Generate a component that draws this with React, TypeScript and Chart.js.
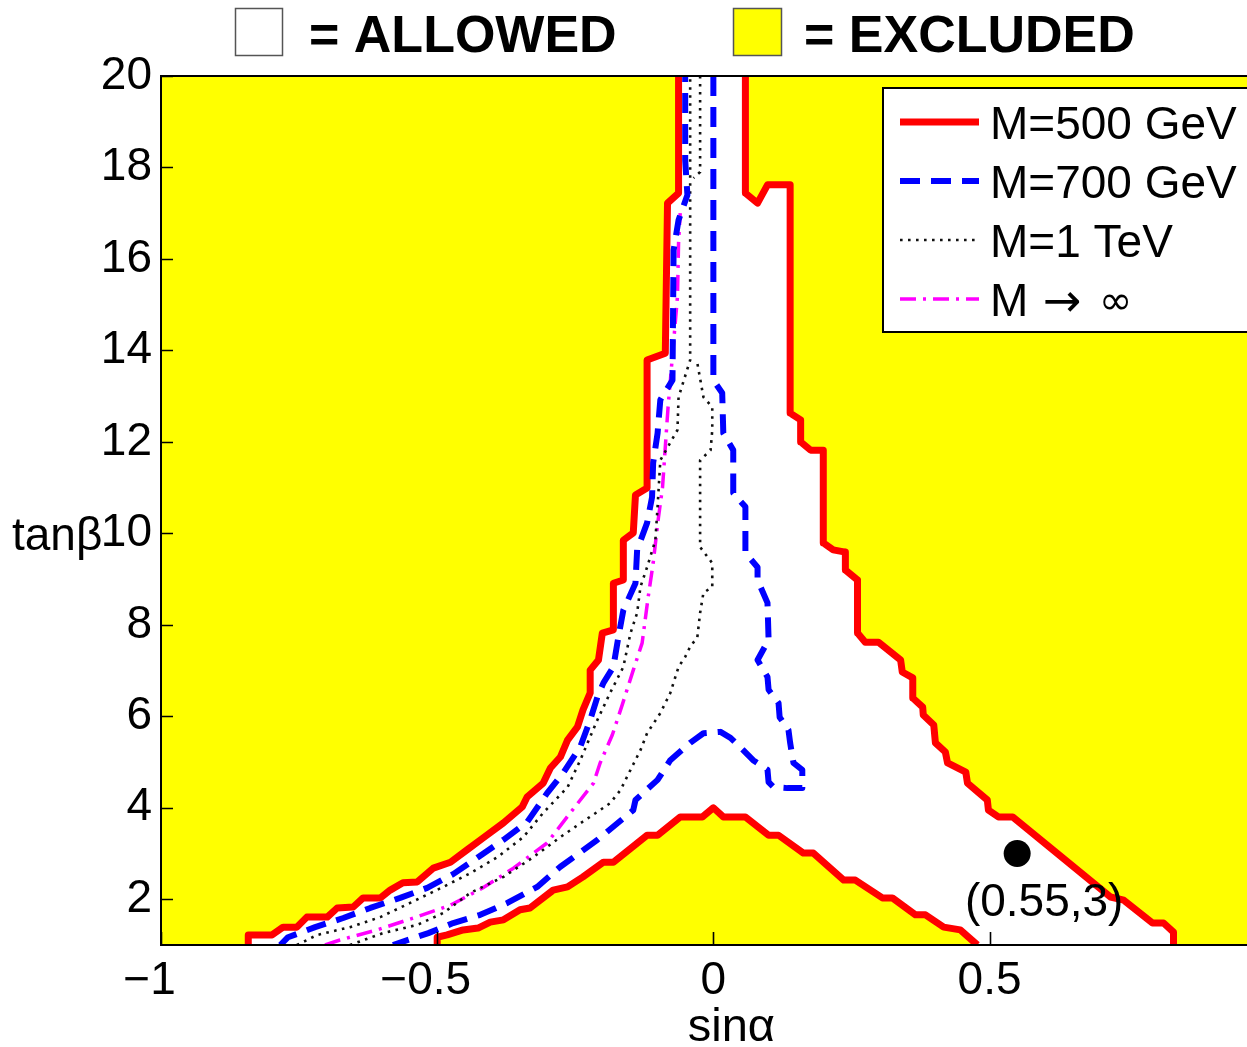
import { useEffect, useRef } from "react";
import { Chart, registerables } from "chart.js";

Chart.register(...registerables);

type Pt = [number, number];

// ---------- data ----------
const xTicks = [-1, -0.5, 0, 0.5];
const yTicks = [2, 4, 6, 8, 10, 12, 14, 16, 18, 20];
const xMin = -1;
const xMax = 0.967;
const yMin = 1;
const yMax = 20;

const seriesLabels = ["M=500 GeV", "M=700 GeV", "M=1 TeV", "M \u2192 \u221E"];
const regionLabels = ["= ALLOWED", "= EXCLUDED"];
const xTitle = "sin\u03B1";
const yTitle = "tan\u03B2";
const benchmarkLabel = "(0.55,3)";
const benchmark: Pt[] = [[0.55, 3]];

// M=500 GeV, outer boundary, left branch (bottom -> top)
const m500Left: Pt[] = [
  [-0.842, 1.0], [-0.842, 1.22], [-0.799, 1.22], [-0.779, 1.39], [-0.754, 1.39], [-0.736, 1.61],
  [-0.699, 1.61], [-0.681, 1.81], [-0.652, 1.83], [-0.634, 2.03], [-0.603, 2.03], [-0.585, 2.2],
  [-0.562, 2.36], [-0.536, 2.38], [-0.507, 2.68], [-0.476, 2.81], [-0.446, 3.08], [-0.417, 3.34],
  [-0.38, 3.67], [-0.346, 4.02], [-0.337, 4.24], [-0.308, 4.54], [-0.295, 4.87], [-0.277, 5.11],
  [-0.264, 5.48], [-0.246, 5.77], [-0.236, 6.14], [-0.223, 6.51], [-0.223, 7.01], [-0.208, 7.23],
  [-0.201, 7.82], [-0.181, 7.89], [-0.181, 8.91], [-0.163, 8.98], [-0.163, 9.85], [-0.145, 10.01],
  [-0.141, 10.84], [-0.12, 10.99], [-0.12, 13.79], [-0.087, 13.94], [-0.083, 17.22], [-0.063, 17.44],
  [-0.063, 20],
];
// M=500 GeV, outer boundary, right branch (top -> bottom)
const m500Right: Pt[] = [
  [0.058, 20], [0.058, 17.44], [0.08, 17.22], [0.098, 17.62], [0.139, 17.62], [0.139, 12.63],
  [0.158, 12.48], [0.158, 12.0], [0.176, 11.82], [0.199, 11.82], [0.199, 9.79], [0.217, 9.64],
  [0.239, 9.59], [0.239, 9.2], [0.261, 8.98], [0.261, 7.82], [0.275, 7.62], [0.299, 7.62],
  [0.339, 7.23], [0.342, 6.97], [0.361, 6.84], [0.361, 6.4], [0.379, 6.2], [0.38, 6.03],
  [0.399, 5.81], [0.402, 5.42], [0.42, 5.22], [0.424, 4.98], [0.457, 4.78], [0.46, 4.54],
  [0.496, 4.17], [0.498, 3.95], [0.516, 3.8], [0.542, 3.8], [0.719, 2.05], [0.743, 1.98],
  [0.795, 1.48], [0.815, 1.48], [0.833, 1.28], [0.833, 1.0],
];
// M=500 GeV, inner (lower) boundary (right -> left)
const m500Inner: Pt[] = [
  [0.478, 1.0], [0.447, 1.33], [0.417, 1.39], [0.384, 1.66], [0.366, 1.66], [0.324, 2.03],
  [0.306, 2.03], [0.257, 2.42], [0.236, 2.42], [0.181, 3.01], [0.163, 3.01], [0.118, 3.4],
  [0.1, 3.4], [0.058, 3.8], [0.018, 3.8], [0.0, 4.0], [-0.02, 3.8], [-0.06, 3.8], [-0.101, 3.4],
  [-0.12, 3.4], [-0.181, 2.81], [-0.199, 2.81], [-0.236, 2.49], [-0.264, 2.27], [-0.29, 2.2],
  [-0.332, 1.81], [-0.35, 1.77], [-0.38, 1.55], [-0.404, 1.5], [-0.426, 1.37], [-0.453, 1.33],
  [-0.482, 1.22], [-0.5, 1.17], [-0.5, 1.0],
];

// M=700 GeV
const m700Left: Pt[] = [
  [-0.784, 1.0], [-0.77, 1.17], [-0.721, 1.39], [-0.67, 1.59], [-0.621, 1.81], [-0.567, 2.03],
  [-0.518, 2.25], [-0.471, 2.55], [-0.426, 2.92], [-0.38, 3.3], [-0.337, 3.69], [-0.301, 4.32],
  [-0.272, 4.76], [-0.241, 5.33], [-0.223, 5.92], [-0.21, 6.42], [-0.199, 6.73], [-0.181, 7.08],
  [-0.172, 7.73], [-0.163, 8.32], [-0.141, 8.91], [-0.138, 9.64], [-0.12, 10.23], [-0.111, 10.79],
  [-0.109, 11.54], [-0.101, 12.19], [-0.096, 12.92], [-0.074, 13.35], [-0.072, 16.19],
  [-0.063, 16.85], [-0.047, 17.4], [-0.051, 18.16], [-0.051, 20],
];
const m700Right: Pt[] = [
  [0.0, 20], [0.0, 13.35], [0.016, 13.07], [0.018, 12.19], [0.036, 11.82], [0.036, 10.88],
  [0.058, 10.58], [0.058, 9.57], [0.08, 9.26], [0.08, 8.98], [0.098, 8.48], [0.1, 7.67],
  [0.08, 7.23], [0.098, 6.86], [0.1, 6.58], [0.118, 6.29], [0.12, 5.98], [0.136, 5.7],
  [0.139, 5.42], [0.145, 4.98], [0.161, 4.83], [0.161, 4.43], [0.134, 4.43], [0.109, 4.45],
  [0.1, 4.56], [0.098, 4.83], [0.072, 5.04], [0.054, 5.26], [0.031, 5.53], [0.013, 5.66],
  [-0.018, 5.63], [-0.042, 5.42], [-0.078, 5.04], [-0.101, 4.61], [-0.141, 4.17], [-0.145, 3.95],
  [-0.21, 3.3], [-0.228, 3.14], [-0.277, 2.71], [-0.319, 2.27], [-0.373, 1.92], [-0.422, 1.66],
  [-0.471, 1.48], [-0.516, 1.26], [-0.58, 1.0],
];

// M=1 TeV
const m1000Left: Pt[] = [
  [-0.754, 1.0], [-0.717, 1.22], [-0.658, 1.39], [-0.603, 1.61], [-0.549, 1.92], [-0.489, 2.27],
  [-0.44, 2.57], [-0.391, 2.92], [-0.344, 3.36], [-0.308, 3.89], [-0.264, 4.45], [-0.241, 5.04],
  [-0.21, 5.92], [-0.187, 6.51], [-0.163, 7.08], [-0.15, 7.82], [-0.138, 8.26], [-0.132, 8.83],
  [-0.12, 9.26], [-0.105, 9.85], [-0.101, 10.58], [-0.096, 11.6], [-0.065, 12.26], [-0.063, 12.98],
  [-0.042, 13.79], [-0.042, 20],
];
const m1000Right: Pt[] = [
  [-0.658, 1.0], [-0.598, 1.26], [-0.536, 1.44], [-0.489, 1.7], [-0.44, 2.14], [-0.38, 2.49],
  [-0.326, 2.92], [-0.277, 3.36], [-0.236, 3.7], [-0.205, 3.95], [-0.187, 4.1], [-0.168, 4.39],
  [-0.15, 4.83], [-0.132, 5.26], [-0.12, 5.63], [-0.096, 6.07], [-0.078, 6.51], [-0.063, 7.08],
  [-0.051, 7.3], [-0.042, 7.52], [-0.029, 7.73], [-0.024, 8.26], [-0.018, 8.7], [-0.002, 8.83],
  [-0.002, 9.35], [-0.024, 9.7], [-0.024, 11.6], [-0.005, 11.82], [-0.002, 12.26], [-0.002, 12.76],
  [-0.018, 12.98], [-0.029, 13.72],
];
const m1000Top: Pt[] = [[-0.024, 20], [-0.024, 17.9], [-0.036, 17.77]];

// M -> infinity
const mInf: Pt[] = [
  [-0.703, 1.0], [-0.676, 1.11], [-0.609, 1.33], [-0.543, 1.59], [-0.476, 1.87], [-0.417, 2.25],
  [-0.362, 2.68], [-0.301, 3.23], [-0.259, 3.89], [-0.217, 4.54], [-0.205, 4.98], [-0.183, 5.59],
  [-0.165, 6.25], [-0.145, 7.01], [-0.129, 7.6], [-0.118, 8.61], [-0.109, 9.35], [-0.1, 10.29],
  [-0.092, 11.01], [-0.087, 11.89], [-0.082, 12.76], [-0.065, 15.17], [-0.063, 16.35], [-0.06, 17.0],
];

// ---------- styles ----------
const W = 1247;
const H = 1047;
const FONT = "'Liberation Sans', Arial, Helvetica, sans-serif";
const SYMFONT = "'DejaVu Sans', 'Liberation Sans', sans-serif";
const YELLOW = "#ffff00";
const seriesStyles = [
  { color: "#ff0000", width: 7, dash: [] as number[] },
  { color: "#0000ff", width: 6, dash: [20, 11] },
  { color: "#111111", width: 2.6, dash: [2.6, 5.4] },
  { color: "#ff00ff", width: 3.5, dash: [16, 7, 3, 7] },
];

const toPts = (a: Pt[]) => a.map(([x, y]) => ({ x, y }));

function lineDs(data: Pt[], s: number, order: number) {
  const st = seriesStyles[s];
  return {
    data: toPts(data),
    showLine: true,
    fill: false,
    borderColor: st.color,
    borderWidth: st.width,
    borderDash: st.dash,
    borderJoinStyle: "round" as const,
    borderCapStyle: "butt" as const,
    pointRadius: 0,
    pointHoverRadius: 0,
    tension: 0,
    clip: 0,
    order,
  };
}

const decorPlugin = {
  id: "decor",
  beforeDraw(chart: any) {
    const { ctx, chartArea: a, width, height } = chart;
    ctx.save();
    ctx.fillStyle = "#ffffff";
    ctx.fillRect(0, 0, width, height);
    ctx.fillStyle = YELLOW;
    ctx.fillRect(a.left, a.top, a.right - a.left, a.bottom - a.top);
    ctx.restore();
  },
  afterDatasetsDraw(chart: any) {
    const { ctx, chartArea: a } = chart;
    const xs = chart.scales.x;
    const ys = chart.scales.y;
    ctx.save();
    ctx.strokeStyle = "#000";
    ctx.lineWidth = 2;
    ctx.setLineDash([]);
    ctx.beginPath();
    ctx.moveTo(a.right + 5, a.top);
    ctx.lineTo(a.left, a.top);
    ctx.lineTo(a.left, a.bottom);
    ctx.lineTo(a.right + 5, a.bottom);
    ctx.stroke();
    ctx.lineWidth = 1.6;
    ctx.beginPath();
    for (const v of yTicks) {
      const py = Math.round(ys.getPixelForValue(v)) + 0.5;
      ctx.moveTo(a.left, py);
      ctx.lineTo(a.left + 12, py);
    }
    for (const v of xTicks) {
      const px = Math.round(xs.getPixelForValue(v)) + 0.5;
      ctx.moveTo(px, a.bottom);
      ctx.lineTo(px, a.bottom - 13);
    }
    ctx.stroke();
    ctx.restore();
  },
  afterDraw(chart: any) {
    const { ctx } = chart;
    const xs = chart.scales.x;
    const ys = chart.scales.y;
    ctx.save();
    ctx.fillStyle = "#000";
    ctx.textBaseline = "alphabetic";

    // y title (horizontal, left of the "10" tick)
    ctx.font = `46px ${FONT}`;
    ctx.textAlign = "left";
    ctx.fillText(yTitle, 12, ys.getPixelForValue(10) + 17);

    // x title
    ctx.textAlign = "center";
    ctx.font = `47px ${FONT}`;
    ctx.fillText(xTitle, xs.getPixelForValue(0) + 18, 1041);

    // benchmark label
    ctx.font = `46px ${FONT}`;
    const bx = xs.getPixelForValue(benchmark[0][0]);
    const by = ys.getPixelForValue(benchmark[0][1]);
    ctx.textAlign = "center";
    ctx.fillText(benchmarkLabel, bx + 27, by + 62);

    // top legend (allowed / excluded)
    ctx.lineWidth = 1.5;
    ctx.strokeStyle = "#555";
    ctx.fillStyle = "#ffffff";
    ctx.fillRect(235, 8, 47, 47);
    ctx.strokeRect(235.5, 8.5, 47, 47);
    ctx.fillStyle = YELLOW;
    ctx.fillRect(733, 8, 48, 47);
    ctx.strokeRect(733.5, 8.5, 48, 47);
    ctx.fillStyle = "#000";
    ctx.font = `bold 52px ${FONT}`;
    ctx.textAlign = "left";
    ctx.fillText(regionLabels[0], 309, 52);
    ctx.fillText(regionLabels[1], 804, 52);

    // line legend box
    ctx.fillStyle = "#ffffff";
    ctx.fillRect(883, 88, 420, 244);
    ctx.strokeStyle = "#000";
    ctx.lineWidth = 2;
    ctx.strokeRect(883, 88, 420, 244);
    ctx.textAlign = "left";
    seriesLabels.forEach((lab, i) => {
      const yc = 122 + i * 59;
      const st = seriesStyles[i];
      ctx.strokeStyle = st.color;
      ctx.lineWidth = st.width;
      ctx.setLineDash(st.dash);
      ctx.lineCap = "butt";
      ctx.beginPath();
      ctx.moveTo(900, yc);
      ctx.lineTo(979, yc);
      ctx.stroke();
      ctx.setLineDash([]);
      ctx.fillStyle = "#000";
      if (i === 3) {
        const parts = lab.split(" ");
        ctx.font = `46px ${FONT}`;
        ctx.fillText(parts[0], 990, yc + 17);
        ctx.font = `46px ${SYMFONT}`;
        ctx.fillText(parts[1], 1043, yc + 17);
        ctx.font = `40px ${SYMFONT}`;
        ctx.fillText(parts[2], 1099, yc + 15);
      } else {
        ctx.font = `46px ${FONT}`;
        ctx.fillText(lab, 990, yc + 17);
      }
    });
    ctx.restore();
  },
};

export default function App() {
  const ref = useRef<HTMLCanvasElement>(null);
  useEffect(() => {
    const canvas = ref.current;
    if (!canvas) return;
    const allowedRegion = [...m500Left, ...m500Right, ...m500Inner];
    const chart = new Chart(canvas, {
      type: "scatter",
      data: {
        datasets: [
          {
            data: toPts(allowedRegion),
            showLine: true,
            fill: "shape",
            backgroundColor: "#ffffff",
            borderWidth: 0,
            borderColor: "rgba(0,0,0,0)",
            pointRadius: 0,
            clip: 0,
            order: 10,
          } as any,
          lineDs(m500Left, 0, 6),
          lineDs(m500Right, 0, 6),
          lineDs(m500Inner, 0, 6),
          lineDs(mInf, 3, 5),
          lineDs(m1000Left, 2, 4),
          lineDs(m1000Right, 2, 4),
          lineDs(m1000Top, 2, 4),
          lineDs(m700Left, 1, 3),
          lineDs(m700Right, 1, 3),
          {
            data: toPts(benchmark),
            showLine: false,
            pointRadius: 13.5,
            pointBackgroundColor: "#000",
            pointBorderWidth: 0,
            order: 1,
          } as any,
        ],
      },
      options: {
        responsive: false,
        maintainAspectRatio: false,
        animation: false,
        devicePixelRatio: 1,
        events: [],
        layout: { padding: { top: 76, left: 0, right: 0, bottom: 0 } },
        plugins: {
          legend: { display: false },
          tooltip: { enabled: false },
          title: { display: false },
        },
        scales: {
          x: {
            type: "linear",
            min: xMin,
            max: xMax,
            afterFit: (s: any) => {
              s.height = 102;
            },
            afterBuildTicks: (s: any) => {
              s.ticks = xTicks.map((v) => ({ value: v }));
            },
            grid: { display: false, drawTicks: false },
            border: { display: false },
            ticks: {
              padding: 9,
              color: "#000",
              maxRotation: 0,
              autoSkip: false,
              font: { family: FONT, size: 46, lineHeight: 1.2 },
              callback: (v: any) => (v < 0 ? String(v).replace("-", "\u2212") + "\u2002" : String(v)),
            },
          },
          y: {
            type: "linear",
            min: yMin,
            max: yMax,
            afterFit: (s: any) => {
              s.width = 161;
            },
            afterBuildTicks: (s: any) => {
              s.ticks = yTicks.map((v) => ({ value: v }));
            },
            grid: { display: false, drawTicks: false },
            border: { display: false },
            ticks: {
              padding: 9,
              color: "#000",
              autoSkip: false,
              font: { family: FONT, size: 46, lineHeight: 1.2 },
              callback: (v: any) => String(v),
            },
          },
        },
      },
      plugins: [decorPlugin],
    } as any);
    // make the plot area reach the right edge of the page, as in the reference
    let w = W;
    for (let k = 0; k < 4; k++) {
      const deficit = W - chart.chartArea.right;
      if (Math.abs(deficit) < 0.5) break;
      w = Math.round(w + deficit);
      chart.resize(w, H);
    }
    return () => chart.destroy();
  }, []);
  return (
    <div style={{ position: "fixed", left: 0, top: 0, width: W, height: H, overflow: "hidden", background: "#fff" }}>
      <div style={{ width: W + 200, height: H }}>
        <canvas ref={ref} width={W} height={H} style={{ display: "block" }} />
      </div>
    </div>
  );
}
